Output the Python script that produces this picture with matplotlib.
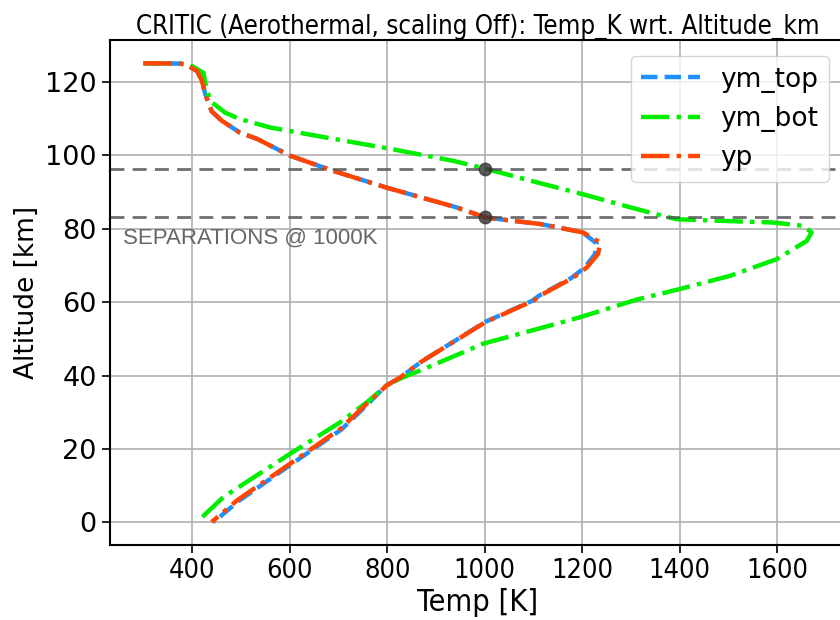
import matplotlib
matplotlib.use("Agg")
import matplotlib.pyplot as plt

# Temperature profiles vs altitude (T in K, altitude in km)
yp_temp = [300, 375, 386, 410, 420, 427, 440, 461, 498, 533, 601, 689, 799, 943, 1001,
           1050, 1114, 1202, 1237, 1233, 1210, 1182, 1114, 1100, 1001, 929, 868, 827,
           799, 758, 704, 601, 492, 440]
yp_alt = [125.1, 125.0, 124.8, 123.0, 120.3, 116.6, 112.0, 109.4, 106.2, 104.5, 99.9,
          95.8, 91.2, 85.8, 83.1, 82.3, 81.3, 79.0, 76.3, 73.2, 69.5, 66.7, 61.8, 60.4,
          54.5, 48.6, 43.6, 39.5, 37.3, 32.3, 25.5, 16.0, 6.0, 0.1]

ym_top_temp = [300, 375, 386, 410, 420, 427, 440, 461, 498, 533, 601, 689, 799, 943,
               1001, 1050, 1114, 1200, 1230, 1226, 1205, 1178, 1112, 1098, 1001, 931,
               870, 829, 797, 760, 707, 604, 496, 444]
ym_top_alt = [125.1, 125.0, 124.8, 123.0, 120.3, 116.6, 112.0, 109.4, 106.2, 104.5,
              99.9, 95.8, 91.2, 85.8, 83.1, 82.3, 81.3, 79.1, 76.0, 73.0, 69.4, 66.6,
              61.8, 60.4, 54.6, 48.8, 43.8, 39.6, 37.2, 32.2, 25.4, 15.9, 5.9, 0.1]

ym_bot_temp = [300, 375, 400, 423, 427, 437, 468, 498, 560, 690, 806, 936, 1001, 1100,
               1202, 1300, 1366, 1394, 1500, 1592, 1654, 1671, 1661, 1599, 1504,
               1401, 1312, 1196, 1100, 997, 950, 868, 827, 799, 758, 704, 601, 464, 413]
ym_bot_alt = [125.1, 125.0, 124.3, 122.5, 119.6, 114.8, 111.6, 109.9, 107.6, 104.5,
              101.8, 98.5, 96.4, 92.9, 89.4, 85.8, 83.5, 82.6, 82.1, 81.7, 80.8,
              79.0, 76.7, 71.7, 67.2, 63.6, 60.7, 55.9, 52.4, 48.7, 46.0, 41.4, 39.2,
              37.3, 32.7, 27.3, 18.7, 6.9, 0.5]

# Altitudes where the profiles cross 1000 K
sep_temp = 1000
sep_alts = [96.4, 83.1]

plt.rcParams['font.family'] = ['DejaVu Sans']

fig = plt.figure(figsize=(8.4, 6.2), dpi=100)
ax = fig.add_axes([0.131, 0.121, 0.875, 0.814])

ax.plot(ym_top_temp, ym_top_alt, color='#1e90ff', ls='--', lw=3.2, label='ym_top')
ax.plot(ym_bot_temp, ym_bot_alt, color='#00ee00', ls='-.', lw=3.2, label='ym_bot')
ax.plot(yp_temp, yp_alt, color='#ff4500', ls='-.', lw=3.2, label='yp')

for a in sep_alts:
    ax.axhline(a, color='#555555', ls='--', lw=2, alpha=0.85, dashes=(5, 3))
ax.scatter([sep_temp] * len(sep_alts), sep_alts, s=80, color='#333333', alpha=0.8,
           zorder=5)

ax.text(258, 77.5, 'SEPARATIONS @ 1000K', color='#666666', fontsize=16,
        family='Liberation Sans', va='center', ha='left')

ax.grid(True, color='#b0b0b0', lw=1.2)
ax.set_axisbelow(True)

ax.set_xticks([400, 600, 800, 1000, 1200, 1400, 1600])
ax.tick_params(axis='both', labelsize=19.5, length=6, width=1.2)
for lab in ax.get_xticklabels():
    lab.set_fontstretch('condensed')
ax.set_xlabel('Temp [K]', fontsize=22, fontstretch='condensed', labelpad=3)
ax.set_ylabel('Altitude [km]', fontsize=19)
ax.set_title('CRITIC (Aerothermal, scaling Off): Temp_K wrt. Altitude_km',
             fontsize=18.5, fontstretch='condensed', pad=4)
for s in ax.spines.values():
    s.set_linewidth(1.5)

ax.legend(loc='upper right', fontsize=19, handlelength=2.2, framealpha=0.8,
          borderaxespad=0.6)

fig.savefig('out.png', dpi=100)
